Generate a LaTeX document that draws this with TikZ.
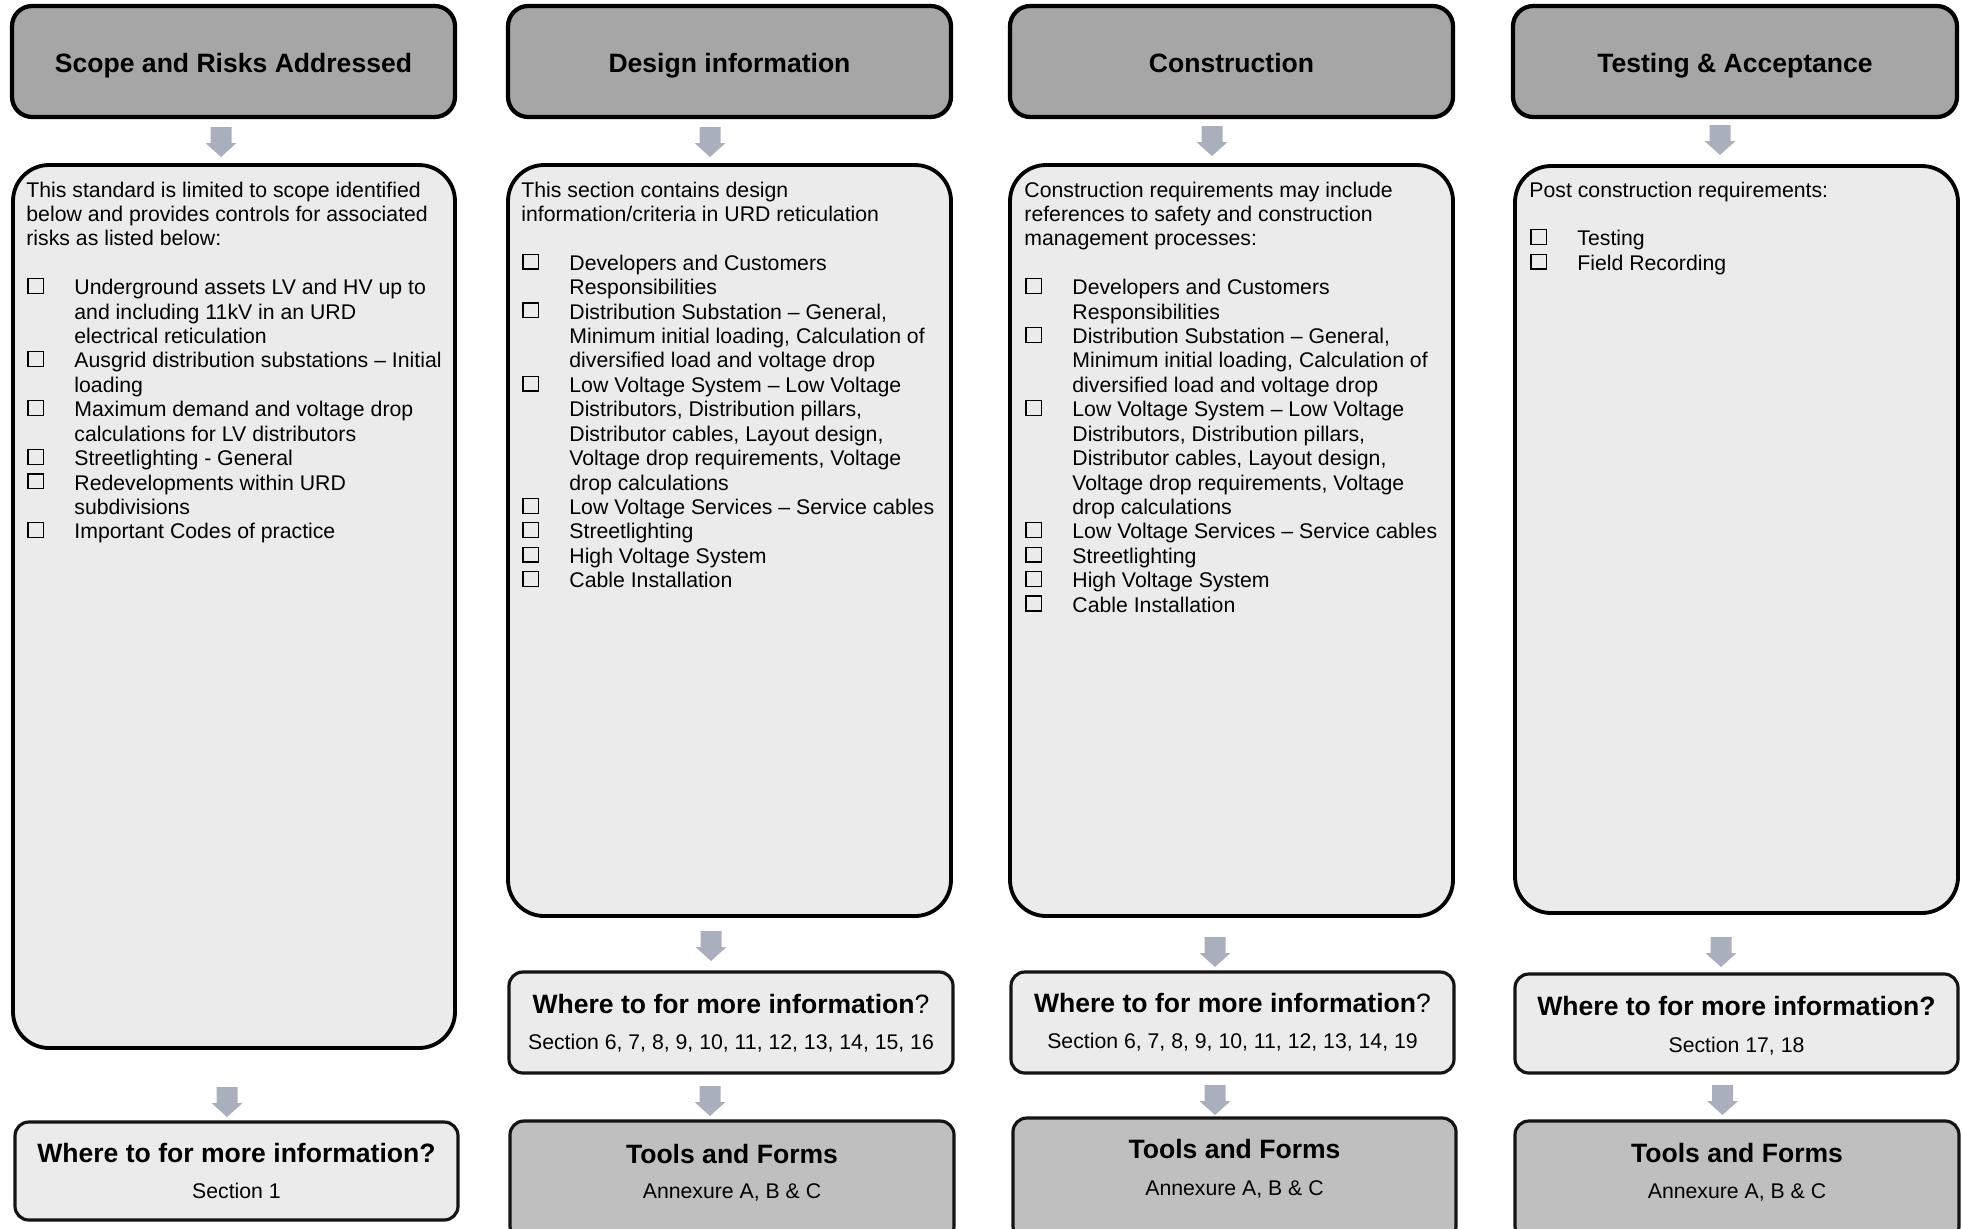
\documentclass[tikz,border=0pt]{standalone}
\usepackage{fontspec}
\setmainfont{Liberation Sans}
\usetikzlibrary{calc}
\newlength{\pxu}\setlength{\pxu}{0.4708pt}
\definecolor{hdrfill}{RGB}{166,166,166}
\definecolor{lightfill}{RGB}{235,235,235}
\definecolor{toolfill}{RGB}{191,191,191}
\definecolor{arrowc}{RGB}{170,175,190}
\definecolor{edgec}{RGB}{20,20,20}
\newcommand{\cbx}{\raisebox{2\pxu}{\setlength{\fboxsep}{0pt}\setlength{\fboxrule}{0.6pt}\fbox{\rule{0pt}{13.5\pxu}\rule{14.5\pxu}{0pt}}}}
\newcommand{\itm}[1]{\par\noindent\hangindent=48\pxu\hangafter=1\makebox[48\pxu][l]{\hspace{1\pxu}\cbx}#1}
\newcommand{\blankln}{\par\vskip\baselineskip}
\newcommand{\boxnode}[6]{\node[#1, minimum width={(#5-#3)*0.4708pt}, minimum height={(#6-#4)*0.4708pt}] (#2) at ({(#3+#5)/2},{(#4+#6)/2}) {};}
\newcommand{\barrow}[3]{\fill[arrowc] ($(#1.north)+(#2,-#3)$) -- ++(-15.5,-14) -- ++(5,0) -- ++(0,-16) -- ++(21,0) -- ++(0,16) -- ++(5,0) -- cycle;}
\begin{document}
\begin{tikzpicture}[x=0.4708pt,y=-0.4708pt,
  hdr/.style={draw=black, line width=2pt, fill=hdrfill, rounded corners=9.5pt, inner sep=0pt, outer sep=0pt},
  content/.style={draw=black, line width=1.8pt, fill=lightfill, rounded corners=17pt, inner sep=0pt, outer sep=0pt},
  info/.style={draw=edgec, line width=1.5pt, fill=lightfill, rounded corners=6.5pt, inner sep=0pt, outer sep=0pt},
  tools/.style={draw=edgec, line width=1.5pt, fill=toolfill, rounded corners=6.5pt, inner sep=0pt, outer sep=0pt},
  title/.style={anchor=base, inner sep=0pt, font=\fontsize{12.5pt}{15pt}\selectfont\bfseries},
  sub/.style={anchor=base, inner sep=0pt, font=\fontsize{10pt}{11.53pt}\selectfont},
  body/.style={anchor=base west, inner sep=0pt, font=\fontsize{10pt}{11.5pt}\selectfont},
]
\useasboundingbox (0,0) rectangle (1962,1228);
\clip (0,0) rectangle (1962,1228);

% headers
\boxnode{hdr}{h1}{12}{6}{455}{117}
\boxnode{hdr}{h2}{508}{6}{951}{117}
\boxnode{hdr}{h3}{1010}{6}{1453}{117}
\boxnode{hdr}{h4}{1513}{6}{1957}{117}
\node[title] (h1t) at (233.5,72) {Scope and Risks Addressed};
\node[title] (h2t) at (729.5,72) {Design information};
\node[title] (h3t) at (1231.5,72) {Construction};
\node[title] (h4t) at (1735,72) {Testing \& Acceptance};

% content boxes
\boxnode{content}{c1}{13}{165}{455}{1048}
\boxnode{content}{c2}{508}{165}{951}{916}
\boxnode{content}{c3}{1010}{165}{1453}{916}
\boxnode{content}{c4}{1515}{166}{1958}{913}

\node[body] (c1t) at (26,197) {\parbox[t]{430\pxu}{\raggedright
This standard is limited to scope identified\newline below and provides controls for associated\newline risks as listed below:
\blankln
\itm{Underground assets LV and HV up to\newline and including 11kV in an URD\newline electrical reticulation}
\itm{Ausgrid distribution substations – Initial\newline loading}
\itm{Maximum demand and voltage drop\newline calculations for LV distributors}
\itm{Streetlighting - General}
\itm{Redevelopments within URD\newline subdivisions}
\itm{Important Codes of practice}\par}};

\node[body] (c2t) at (521,197) {\parbox[t]{430\pxu}{\raggedright
This section contains design\newline information/criteria in URD reticulation
\blankln
\itm{Developers and Customers\newline Responsibilities}
\itm{Distribution Substation – General,\newline Minimum initial loading, Calculation of\newline diversified load and voltage drop}
\itm{Low Voltage System – Low Voltage\newline Distributors, Distribution pillars,\newline Distributor cables, Layout design,\newline Voltage drop requirements, Voltage\newline drop calculations}
\itm{Low Voltage Services – Service cables}
\itm{Streetlighting}
\itm{High Voltage System}
\itm{Cable Installation}\par}};

\node[body] (c3t) at (1024,197) {\parbox[t]{430\pxu}{\raggedright
Construction requirements may include\newline references to safety and construction\newline management processes:
\blankln
\itm{Developers and Customers\newline Responsibilities}
\itm{Distribution Substation – General,\newline Minimum initial loading, Calculation of\newline diversified load and voltage drop}
\itm{Low Voltage System – Low Voltage\newline Distributors, Distribution pillars,\newline Distributor cables, Layout design,\newline Voltage drop requirements, Voltage\newline drop calculations}
\itm{Low Voltage Services – Service cables}
\itm{Streetlighting}
\itm{High Voltage System}
\itm{Cable Installation}\par}};

\node[body] (c4t) at (1529,197) {\parbox[t]{420\pxu}{\raggedright
Post construction requirements:
\blankln
\itm{Testing}
\itm{Field Recording}\par}};

% where-to boxes
\boxnode{info}{w1}{15}{1122}{458}{1220}
\boxnode{info}{w2}{509}{972}{953}{1073}
\boxnode{info}{w3}{1011}{972}{1454}{1073}
\boxnode{info}{w4}{1515}{974}{1958}{1073}
\node[title] (w1a) at (236.5,1162) {Where to for more information?};
\node[sub] (w1b) at (236.5,1198) {Section 1};
\node[title] (w2a) at (731,1013) {Where to for more information\mdseries?};
\node[sub] (w2b) at (731,1049) {Section 6, 7, 8, 9, 10, 11, 12, 13, 14, 15, 16};
\node[title] (w3a) at (1232.5,1012) {Where to for more information\mdseries?};
\node[sub] (w3b) at (1232.5,1048) {Section 6, 7, 8, 9, 10, 11, 12, 13, 14, 19};
\node[title] (w4a) at (1736.5,1015) {Where to for more information?};
\node[sub] (w4b) at (1736.5,1052) {Section 17, 18};

% tools boxes
\boxnode{tools}{t2}{510}{1121}{954}{1240}
\boxnode{tools}{t3}{1013}{1118}{1456}{1240}
\boxnode{tools}{t4}{1515}{1121}{1959}{1240}
\node[title] (t2a) at (732,1163) {Tools and Forms};
\node[sub] (t2b) at (732,1198) {Annexure A, B \& C};
\node[title] (t3a) at (1234.5,1158) {Tools and Forms};
\node[sub] (t3b) at (1234.5,1195) {Annexure A, B \& C};
\node[title] (t4a) at (1737,1162) {Tools and Forms};
\node[sub] (t4b) at (1737,1198) {Annexure A, B \& C};

% block arrows
\barrow{c1}{-13}{8}
\barrow{c2}{-19.5}{8}
\barrow{c3}{-19.5}{9}
\barrow{c4}{-16.5}{11}
\barrow{w2}{-20}{11}
\barrow{w3}{-17.5}{5}
\barrow{w4}{-15.5}{7}
\barrow{w1}{-9.5}{5}
\barrow{t2}{-22}{5}
\barrow{t3}{-19.5}{3}
\barrow{t4}{-14.5}{6}
\end{tikzpicture}
\end{document}
